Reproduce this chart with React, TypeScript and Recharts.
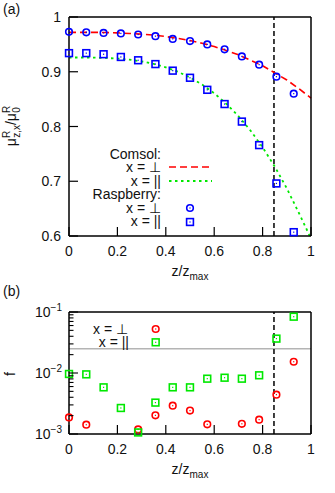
import React from 'react';
import { ComposedChart, Line, Scatter, XAxis, YAxis, ReferenceLine } from 'recharts';

const FONT = "'Liberation Sans', Arial, Helvetica, sans-serif";
const RED = '#ff0000';
const GREEN = '#00e800';
const BLUE = '#0000ff';

// ---------- panel (a) data ----------
const sampleX = [0, 0.0714, 0.1429, 0.2143, 0.2857, 0.3571, 0.4286, 0.5, 0.5714, 0.6429, 0.7143, 0.7857, 0.8571, 0.9286];
const raspPerp = [0.973, 0.972, 0.971, 0.97, 0.968, 0.965, 0.96, 0.956, 0.95, 0.941, 0.928, 0.913, 0.891, 0.86];
const raspPar = [0.934, 0.934, 0.932, 0.927, 0.921, 0.914, 0.902, 0.889, 0.867, 0.841, 0.809, 0.766, 0.696, 0.607];

const comsolPerpX = [0, 0.05, 0.1, 0.15, 0.2, 0.25, 0.3, 0.35, 0.4, 0.45, 0.5, 0.55, 0.6, 0.65, 0.7, 0.75, 0.8, 0.85, 0.9, 0.95, 1.0];
const comsolPerp = [0.972, 0.972, 0.972, 0.9716, 0.971, 0.970, 0.9688, 0.9669, 0.9643, 0.9611, 0.957, 0.952, 0.946, 0.939, 0.931, 0.921, 0.911, 0.898, 0.885, 0.869, 0.852];
const comsolParX = [0, 0.05, 0.1, 0.15, 0.2, 0.25, 0.3, 0.35, 0.4, 0.45, 0.5, 0.55, 0.6, 0.65, 0.7, 0.75, 0.8, 0.85, 0.9, 0.95, 0.995];
const comsolPar = [0.926, 0.926, 0.9258, 0.9252, 0.9241, 0.922, 0.9189, 0.9143, 0.9081, 0.9, 0.8896, 0.8766, 0.8607, 0.8416, 0.819, 0.7926, 0.762, 0.727, 0.687, 0.642, 0.6];

const yTicksA = [0.6, 0.7, 0.8, 0.9, 1];
const xTicks = [0, 0.2, 0.4, 0.6, 0.8, 1];
const zMark = 0.847;

// ---------- panel (b) data ----------
const fPerpX = [0, 0.0714, 0.2857, 0.3571, 0.4286, 0.5, 0.5714, 0.7143, 0.7857, 0.8571, 0.9286];
const fPerp = [0.00187, 0.00142, 0.00119, 0.00202, 0.00291, 0.00242, 0.00144, 0.00147, 0.00172, 0.00442, 0.0153];
const fParX = sampleX;
const fPar = [0.00964, 0.0095, 0.00582, 0.00267, 0.00106, 0.00327, 0.00582, 0.00582, 0.00807, 0.00837, 0.00807, 0.00917, 0.0366, 0.0838];
const fThreshold = 0.025;

const yMajorB = [0.001, 0.01, 0.1];
const yTicksB = [0.001, 0.002, 0.003, 0.004, 0.005, 0.006, 0.007, 0.008, 0.009, 0.01, 0.02, 0.03, 0.04, 0.05, 0.06, 0.07, 0.08, 0.09, 0.1];

// ---------- built tables ----------
const zip = (xs: number[], ys: number[]) => xs.map((x, i) => ({ x, y: ys[i] }));
const perpLineData = zip(comsolPerpX, comsolPerp);
const parLineData = zip(comsolParX, comsolPar);
const raspPerpData = zip(sampleX, raspPerp);
const raspParData = zip(sampleX, raspPar);
const fPerpData = zip(fPerpX, fPerp);
const fParData = zip(fParX, fPar);

const TL = 9; // major tick length
const TS = 4.5; // minor tick length

const circleShape = (color: string) => (props: any) => {
  const { cx, cy } = props;
  if (cx == null || cy == null) return <g />;
  return (
    <g>
      <circle cx={cx} cy={cy} r={3.3} fill="none" stroke={color} strokeWidth={1.6} />
      <rect x={cx - 0.6} y={cy - 0.6} width={1.2} height={1.2} fill={color} />
    </g>
  );
};
const squareShape = (color: string) => (props: any) => {
  const { cx, cy } = props;
  if (cx == null || cy == null) return <g />;
  return (
    <g>
      <rect x={cx - 3.4} y={cy - 3.4} width={6.8} height={6.8} fill="none" stroke={color} strokeWidth={1.6} />
      <rect x={cx - 0.6} y={cy - 0.6} width={1.2} height={1.2} fill={color} />
    </g>
  );
};

const fmt = (v: number) => String(Math.round(v * 10) / 10);

const BottomTick = (props: any) => {
  const { x, y, payload } = props;
  return (
    <g>
      <line x1={x} y1={y} x2={x} y2={y - TL} stroke="#000" strokeWidth={1.2} />
      <text x={x} y={y + 20} textAnchor="middle" fontSize={14} fontFamily={FONT} fill="#111">
        {fmt(payload.value)}
      </text>
    </g>
  );
};
const TopTick = (props: any) => {
  const { x, y } = props;
  return <line x1={x} y1={y} x2={x} y2={y + TL} stroke="#000" strokeWidth={1.2} />;
};
const LeftTickA = (props: any) => {
  const { x, y, payload } = props;
  return (
    <g>
      <line x1={x} y1={y} x2={x + TL} y2={y} stroke="#000" strokeWidth={1.2} />
      <text x={x - 8} y={y + 5} textAnchor="end" fontSize={14} fontFamily={FONT} fill="#111">
        {fmt(payload.value)}
      </text>
    </g>
  );
};
const RightTickA = (props: any) => {
  const { x, y } = props;
  return <line x1={x} y1={y} x2={x - TL} y2={y} stroke="#000" strokeWidth={1.2} />;
};
const isMajor = (v: number) => yMajorB.some((m) => Math.abs(m - v) < m * 1e-6);
const LeftTickB = (props: any) => {
  const { x, y, payload } = props;
  const major = isMajor(payload.value);
  const exp = Math.round(Math.log10(payload.value));
  return (
    <g>
      <line x1={x} y1={y} x2={x + (major ? TL : TS)} y2={y} stroke="#000" strokeWidth={1.1} />
      {major && (
        <text x={x - 7} y={y + 5} textAnchor="end" fontSize={14} fontFamily={FONT} fill="#111">
          10
          <tspan dy={-6} fontSize={10}>{'\u2212' + Math.abs(exp)}</tspan>
        </text>
      )}
    </g>
  );
};
const RightTickB = (props: any) => {
  const { x, y, payload } = props;
  const major = isMajor(payload.value);
  return <line x1={x} y1={y} x2={x - (major ? TL : TS)} y2={y} stroke="#000" strokeWidth={1.1} />;
};

const axisLine = { stroke: '#000', strokeWidth: 1.5 };

export default function App() {
  return (
    <div style={{ position: 'absolute', left: 0, top: 0, width: 335, height: 493, background: '#fff' }}>
      <div style={{ position: 'absolute', left: 0, top: 0 }}>
        <ComposedChart width={335} height={290} margin={{ top: 16, right: 23, bottom: 53, left: 68 }}>
          <XAxis dataKey="x" type="number" domain={[0, 1]} ticks={xTicks} interval={0} height={1}
            tickSize={0} tickMargin={0} tickLine={false} tick={BottomTick} axisLine={axisLine} />
          <XAxis xAxisId="top" orientation="top" dataKey="x" type="number" domain={[0, 1]} ticks={xTicks} interval={0}
            height={1} tickSize={0} tickMargin={0} tickLine={false} tick={TopTick} axisLine={axisLine} />
          <YAxis type="number" domain={[0.6, 1]} ticks={yTicksA} interval={0} width={1}
            tickSize={0} tickMargin={0} tickLine={false} tick={LeftTickA} axisLine={axisLine} />
          <YAxis yAxisId="right" orientation="right" type="number" domain={[0.6, 1]} ticks={yTicksA} interval={0} width={1}
            tickSize={0} tickMargin={0} tickLine={false} tick={RightTickA} axisLine={axisLine} />
          <ReferenceLine x={zMark} stroke="#000" strokeWidth={1.5} strokeDasharray="5 3" />
          <Line data={perpLineData} dataKey="y" type="linear" stroke={RED} strokeWidth={1.6}
            strokeDasharray="7 4" dot={false} isAnimationActive={false} />
          <Line data={parLineData} dataKey="y" type="linear" stroke={GREEN} strokeWidth={1.8}
            strokeDasharray="2.5 3.5" dot={false} isAnimationActive={false} />
          <Scatter data={raspPerpData} dataKey="y" shape={circleShape(BLUE)} isAnimationActive={false} />
          <Scatter data={raspParData} dataKey="y" shape={squareShape(BLUE)} isAnimationActive={false} />
        </ComposedChart>
      </div>
      <div style={{ position: 'absolute', left: 0, top: 290 }}>
        <ComposedChart width={335} height={203} margin={{ top: 21, right: 23, bottom: 58, left: 68 }}>
          <XAxis dataKey="x" type="number" domain={[0, 1]} ticks={xTicks} interval={0} height={1}
            tickSize={0} tickMargin={0} tickLine={false} tick={BottomTick} axisLine={axisLine} />
          <XAxis xAxisId="top" orientation="top" dataKey="x" type="number" domain={[0, 1]} ticks={xTicks} interval={0}
            height={1} tickSize={0} tickMargin={0} tickLine={false} tick={TopTick} axisLine={axisLine} />
          <YAxis type="number" scale="log" domain={[0.001, 0.1]} ticks={yTicksB} interval={0} width={1}
            tickSize={0} tickMargin={0} tickLine={false} tick={LeftTickB} axisLine={axisLine} />
          <YAxis yAxisId="right" orientation="right" type="number" scale="log" domain={[0.001, 0.1]} ticks={yTicksB}
            interval={0} width={1} tickSize={0} tickMargin={0} tickLine={false} tick={RightTickB} axisLine={axisLine} />
          <ReferenceLine y={fThreshold} stroke="#b4b4b4" strokeWidth={1.3} />
          <ReferenceLine x={zMark} stroke="#000" strokeWidth={1.5} strokeDasharray="5 3" />
          <Scatter data={fPerpData} dataKey="y" shape={circleShape(RED)} isAnimationActive={false} />
          <Scatter data={fParData} dataKey="y" shape={squareShape(GREEN)} isAnimationActive={false} />
        </ComposedChart>
      </div>
      <svg width={335} height={493} style={{ position: 'absolute', left: 0, top: 0, pointerEvents: 'none' }}
        fontFamily={FONT} fill="#111">
        <text x={3} y={14} fontSize={14}>(a)</text>
        <text x={3} y={296} fontSize={14}>(b)</text>
        {/* axis titles */}
        <text x={190} y={276} textAnchor="middle" fontSize={14}>
          z/z<tspan fontSize={10} dy={4}>max</tspan>
        </text>
        <text x={190} y={474} textAnchor="middle" fontSize={14}>
          z/z<tspan fontSize={10} dy={4}>max</tspan>
        </text>
        <text transform="translate(16,126) rotate(-90)" textAnchor="middle" fontSize={14}>
          μ<tspan fontSize={10} dy={-6}>R</tspan>
          <tspan fontSize={10} dx={-7} dy={10}>z,x</tspan>
          <tspan dy={-4}>/μ</tspan>
          <tspan fontSize={10} dy={-6}>R</tspan>
          <tspan fontSize={10} dx={-7} dy={10}>0</tspan>
        </text>
        <text transform="translate(15,374) rotate(-90)" textAnchor="middle" fontSize={14}>f</text>
        {/* legend (a) */}
        <text x={161} y={158.5} textAnchor="end" fontSize={14}>Comsol:</text>
        <text x={161} y={172} textAnchor="end" fontSize={14}>x = ⊥</text>
        <line x1={169} y1={167} x2={212} y2={167} stroke={RED} strokeWidth={1.6} strokeDasharray="7 4" />
        <text x={161} y={185.5} textAnchor="end" fontSize={14}>x = ||</text>
        <line x1={169} y1={181} x2={212} y2={181} stroke={GREEN} strokeWidth={1.8} strokeDasharray="2.5 3.5" />
        <text x={161} y={199} textAnchor="end" fontSize={14}>Raspberry:</text>
        <text x={161} y={212.5} textAnchor="end" fontSize={14}>x = ⊥</text>
        <g>
          <circle cx={190} cy={208} r={3.3} fill="none" stroke={BLUE} strokeWidth={1.6} />
          <rect x={189.4} y={207.4} width={1.2} height={1.2} fill={BLUE} />
        </g>
        <text x={161} y={226} textAnchor="end" fontSize={14}>x = ||</text>
        <g>
          <rect x={186.6} y={218.6} width={6.8} height={6.8} fill="none" stroke={BLUE} strokeWidth={1.6} />
          <rect x={189.4} y={221.4} width={1.2} height={1.2} fill={BLUE} />
        </g>
        {/* legend (b) */}
        <text x={128} y={333.5} textAnchor="end" fontSize={14}>x = ⊥</text>
        <g>
          <circle cx={155.7} cy={329} r={3.3} fill="none" stroke={RED} strokeWidth={1.6} />
          <rect x={155.1} y={328.4} width={1.2} height={1.2} fill={RED} />
        </g>
        <text x={129} y={347} textAnchor="end" fontSize={14}>x = ||</text>
        <g>
          <rect x={152.3} y={338.9} width={6.8} height={6.8} fill="none" stroke={GREEN} strokeWidth={1.6} />
          <rect x={155.1} y={341.7} width={1.2} height={1.2} fill={GREEN} />
        </g>
      </svg>
    </div>
  );
}
